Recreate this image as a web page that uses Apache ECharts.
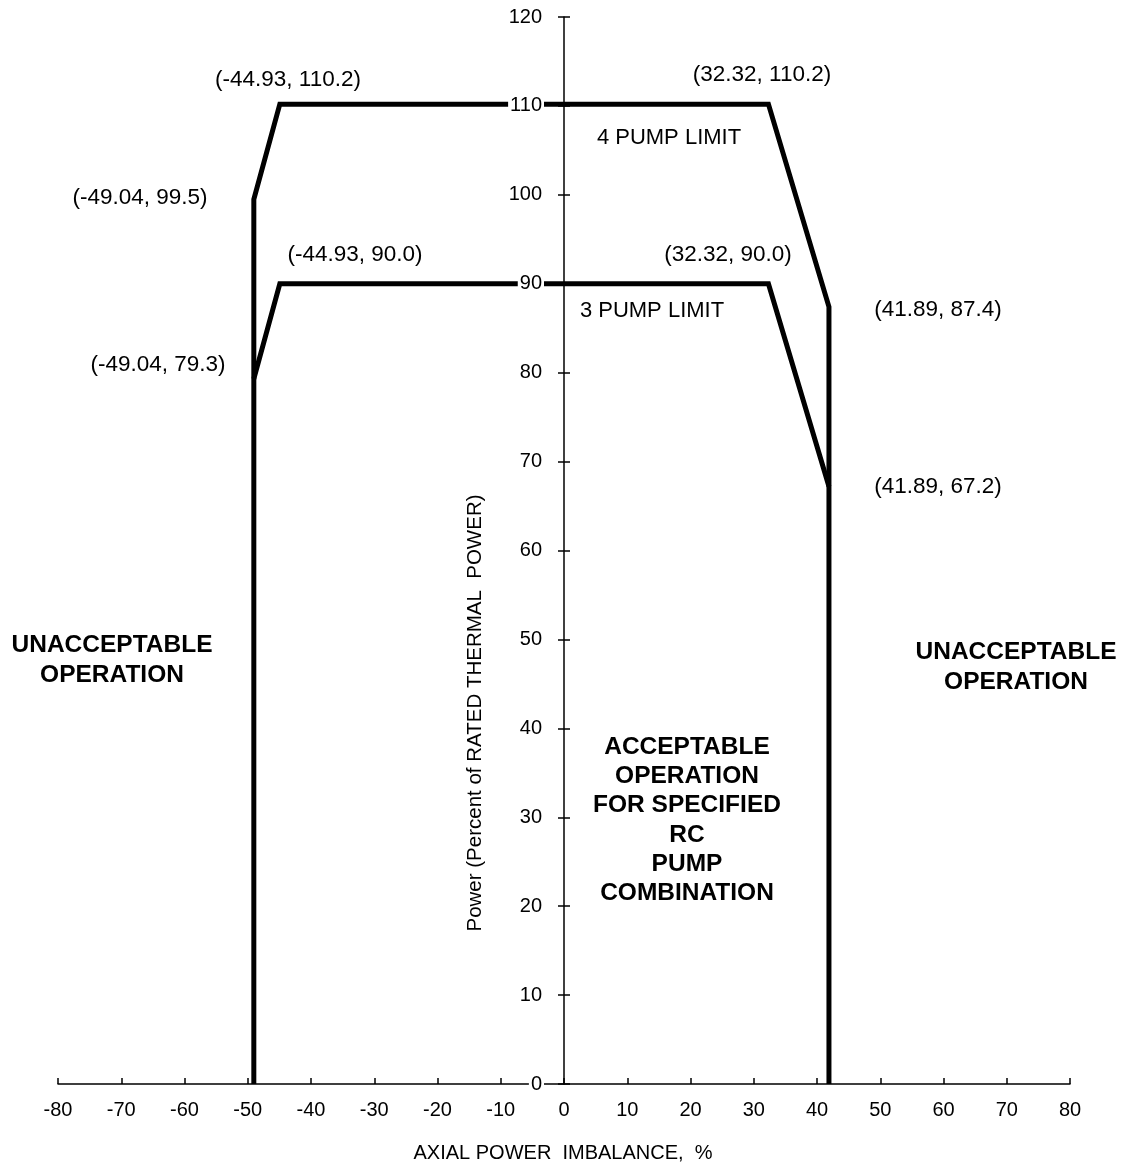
<!DOCTYPE html>
<html>
<head>
<meta charset="utf-8">
<script src="https://cdn.jsdelivr.net/npm/echarts@6/dist/echarts.min.js"></script>
<style>html,body{margin:0;padding:0;background:#fff}#c{width:1141px;height:1167px}</style>
</head>
<body>
<div id="c"></div>
<script>
var xTicks = [-80,-70,-60,-50,-40,-30,-20,-10,0,10,20,30,40,50,60,70,80];
var yTicks = [0,10,20,30,40,50,60,70,80,90,100,110,120];
var fourPumpLimit = [[-49.04,0],[-49.04,99.5],[-44.93,110.2],[32.32,110.2],[41.89,87.4],[41.89,0]];
var threePumpLimit = [[-49.04,79.3],[-44.93,90.0],[32.32,90.0],[41.89,67.2]];
var pointLabels = ['(-44.93, 110.2)','(32.32, 110.2)','(-49.04, 99.5)','(-44.93, 90.0)','(32.32, 90.0)','(-49.04, 79.3)','(41.89, 87.4)','(41.89, 67.2)'];
var regionLabels = ['4 PUMP LIMIT','3 PUMP LIMIT'];
var zoneLeft = ['UNACCEPTABLE','OPERATION'];
var zoneRight = ['UNACCEPTABLE','OPERATION'];
var zoneCenter = ['ACCEPTABLE','OPERATION','FOR SPECIFIED','RC','PUMP','COMBINATION'];
var xTitle = 'AXIAL POWER  IMBALANCE,  %';
var yTitle = 'Power (Percent of RATED THERMAL  POWER)';

var FONT = '"Liberation Sans", Arial, sans-serif';
var chart = echarts.init(document.getElementById('c'));

function txt(s, x, y, opts) {
  opts = opts || {};
  return {
    type: 'text', x: x, y: y, rotation: opts.rotation || 0, z: 100,
    style: {
      text: s, fill: '#000', font: (opts.bold ? 'bold ' : '') + (opts.size || 20) + 'px ' + FONT,
      align: 'center', verticalAlign: 'middle'
    }
  };
}
var graphics = [];
var plPos = [[288,80],[762,75],[140,198],[355,255],[728,255],[158,365],[938,310],[938,487]];
pointLabels.forEach(function(s,i){ graphics.push(txt(s, plPos[i][0], plPos[i][1], {size:22.5})); });
graphics.push(txt(regionLabels[0], 669, 138, {size:22}));
graphics.push(txt(regionLabels[1], 652, 311, {size:22}));
zoneLeft.forEach(function(s,i){ graphics.push(txt(s, 112, 645 + i*30, {bold:true, size:24.5})); });
zoneRight.forEach(function(s,i){ graphics.push(txt(s, 1016, 652 + i*30, {bold:true, size:24.5})); });
zoneCenter.forEach(function(s,i){ graphics.push(txt(s, 687, 747 + i*29.3, {bold:true, size:24.5})); });
graphics.push(txt(xTitle, 563, 1153, {size:20}));
graphics.push(txt(yTitle, 475, 713, {size:20.5, rotation: Math.PI/2}));

var lineStyle = {color:'#000', width:5, cap:'butt', join:'miter'};
var yOffset = -506;
chart.setOption({
  animation: false,
  backgroundColor: '#fff',
  grid: {left:58, right:71, top:17, bottom:83},
  xAxis: {
    type:'value', min:-80, max:80, interval:10,
    axisLine:{show:true, onZero:false, lineStyle:{color:'#000', width:1.5}},
    axisTick:{show:true, inside:true, length:6, lineStyle:{color:'#000', width:1.5}},
    axisLabel:{color:'#000', fontSize:20, fontFamily:FONT, margin:16},
    splitLine:{show:false}
  },
  yAxis: [{
    type:'value', min:0, max:120, interval:10, z:10, position:'left', offset:yOffset,
    axisLine:{show:true, onZero:false, lineStyle:{color:'#000', width:1.5}},
    axisTick:{show:true, length:6, lineStyle:{color:'#000', width:1.5}},
    axisLabel:{color:'#000', fontSize:20, fontFamily:FONT, margin:20, backgroundColor:'#fff', padding:[0,2,0,2]},
    splitLine:{show:false}
  },{
    type:'value', min:0, max:120, interval:10, z:10, position:'left', offset:yOffset,
    axisLine:{show:false, onZero:false},
    axisTick:{show:true, inside:true, length:6, lineStyle:{color:'#000', width:1.5}},
    axisLabel:{show:false},
    splitLine:{show:false}
  }],
  graphic: graphics,
  series: [
    {type:'line', name:'4 PUMP LIMIT', data:fourPumpLimit, symbol:'none', lineStyle:lineStyle, z:3},
    {type:'line', name:'3 PUMP LIMIT', data:threePumpLimit, symbol:'none', lineStyle:lineStyle, z:3}
  ]
});
</script>
</body>
</html>
